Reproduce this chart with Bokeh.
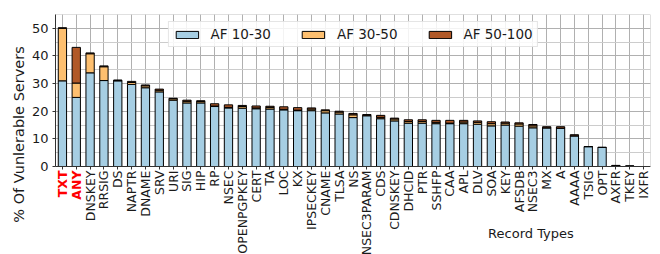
import math
from bokeh.plotting import figure
from bokeh.models import (FixedTicker, Legend, CategoricalAxis, CustomJSTickFormatter,
                          Range1d, BoxAnnotation, Label)
from bokeh.embed import file_html
from bokeh.resources import INLINE

cats = ["TXT", "ANY", "DNSKEY", "RRSIG", "DS", "NAPTR", "DNAME", "SRV", "URI", "SIG",
        "HIP", "RP", "NSEC", "OPENPGPKEY", "CERT", "TA", "LOC", "KX", "IPSECKEY", "CNAME",
        "TLSA", "NS", "NSEC3PARAM", "CDS", "CDNSKEY", "DHCID", "PTR", "SSHFP", "CAA", "APL",
        "DLV", "SOA", "KEY", "AFSDB", "NSEC3", "MX", "A", "AAAA", "TSIG", "OPT",
        "AXFR", "TKEY", "IXFR"]
af_10_30 = [31.0, 25.0, 33.9, 31.1, 31.0, 29.7, 28.5, 27.0, 24.0, 23.0,
            23.0, 21.7, 21.2, 21.1, 20.9, 20.8, 20.5, 20.2, 20.2, 19.4,
            19.0, 17.7, 18.4, 17.3, 16.5, 15.7, 15.7, 15.5, 15.5, 15.5,
            15.3, 14.7, 15.0, 14.6, 14.0, 14.0, 13.9, 11.1, 7.2, 6.9,
            0.2, 0.1, 0.0]
af_30_50 = [19.0, 5.2, 6.9, 5.0, 0.1, 0.7, 0.7, 0.6, 0.5, 0.6,
            0.5, 0.2, 0.2, 0.6, 0.3, 0.6, 0.2, 0.2, 0.6, 0.8,
            0.7, 1.0, 0.0, 0.5, 0.7, 0.6, 0.6, 0.5, 0.2, 0.6,
            0.7, 0.8, 0.7, 0.8, 0.7, 0.0, 0.0, 0.0, 0.0, 0.0,
            0.0, 0.0, 0.0]
af_50_100 = [0.2, 12.9, 0.3, 0.3, 0.2, 0.4, 0.3, 0.4, 0.2, 0.4,
             0.3, 0.8, 0.9, 0.4, 0.7, 0.4, 0.9, 0.9, 0.4, 0.3,
             0.3, 0.5, 0.4, 0.7, 0.3, 0.6, 0.6, 0.7, 1.0, 0.6,
             0.5, 0.7, 0.4, 0.4, 0.5, 0.4, 0.5, 0.4, 0.0, 0.0,
             0.2, 0.1, 0.0]
series = ["AF 10-30", "AF 30-50", "AF 50-100"]
colors = ["#a6cee3", "#fdbf6f", "#b15928"]
highlight = ["TXT", "ANY"]
y_ticks = [0, 10, 20, 30, 40, 50]
y_minor = [5, 15, 25, 35, 45]
Y_TOP = 55

FONT = "DejaVu Sans"
FS = "13px"
XFS = "12.5px"
TXT_COLOR = "#1a1a1a"
GRID = "#b0b0b0"
data = {"cat": cats, "s0": af_10_30, "s1": af_30_50, "s2": af_50_100}

# The frame is extended below zero so the (clipped-to-frame) fixed x axes and
# the axis title remain visible; the visible "plot box" is 0..Y_TOP.
PLOT_H = 152
FRAME_H = 240
y_lo = -Y_TOP * (FRAME_H - PLOT_H) / PLOT_H

p = figure(x_range=cats, y_range=Range1d(y_lo, Y_TOP), frame_width=595, frame_height=FRAME_H,
           output_backend="svg", toolbar_location=None, x_axis_location=None,
           min_border_left=55, min_border_top=14, min_border_right=5, min_border_bottom=0)
p.outline_line_color = None

rs = p.vbar_stack(["s0", "s1", "s2"], x="cat", width=0.6, source=data,
                  color=colors, line_color="black", line_width=1)

legend = Legend(items=[(s, [r]) for s, r in zip(series, rs)],
                location="top_center", orientation="horizontal",
                label_text_font=FONT, label_text_font_size="13.5px", label_text_color=TXT_COLOR,
                glyph_width=28, glyph_height=9, label_standoff=10, spacing=28,
                padding=4, margin=7, border_line_color="#cccccc",
                background_fill_alpha=0.85, label_height=12, label_width=10)
p.add_layout(legend, "center")

# grids
p.ygrid.grid_line_color = GRID
p.ygrid.minor_grid_line_color = "#cccccc"
xg = p.xgrid[0]
xg.grid_line_color = GRID
if "cross_bounds" in xg.properties():
    xg.cross_bounds = (0, Y_TOP)
else:
    xg.visible = False
    p.segment(x0=cats, y0=0, x1=cats, y1=Y_TOP, line_color=GRID, level="underlay")

# plot box
p.add_layout(BoxAnnotation(bottom=0, top=Y_TOP, fill_alpha=0, line_color="#333333",
                           line_width=1, level="overlay"))

# y axis
p.yaxis.ticker = FixedTicker(ticks=y_ticks, minor_ticks=y_minor)
p.yaxis.bounds = (0, Y_TOP)
p.yaxis.minor_tick_line_color = None
p.yaxis.axis_label = "% Of Vunlerable Servers"
p.yaxis.axis_label_text_font = FONT
p.yaxis.axis_label_text_font_size = "14.5px"
p.yaxis.axis_label_text_font_style = "normal"
p.yaxis.axis_label_text_color = TXT_COLOR
p.yaxis.axis_label_standoff = 2
p.yaxis.major_label_text_font = FONT
p.yaxis.major_label_text_font_size = FS
p.yaxis.major_label_text_color = TXT_COLOR
p.yaxis.major_tick_out = 3
p.yaxis.major_tick_in = 0
p.yaxis.axis_line_color = "#333333"
p.yaxis.major_tick_line_color = "#333333"
p.yaxis.major_label_standoff = 3

# x axis (black labels), fixed at y = 0
x_axis = CategoricalAxis(fixed_location=0,
                         formatter=CustomJSTickFormatter(args=dict(hl=highlight),
                                                         code="return hl.includes(tick) ? '' : tick;"),
                         major_label_orientation=math.pi / 2, major_label_standoff=1,
                         major_tick_out=3, major_tick_in=0, major_tick_line_color="#333333",
                         axis_line_color="#333333", major_label_text_color=TXT_COLOR,
                         major_label_text_font=FONT, major_label_text_font_size=XFS)
p.add_layout(x_axis, "below")

# red, bold labels for the highlighted record types
red_axis = CategoricalAxis(fixed_location=0,
                           formatter=CustomJSTickFormatter(args=dict(hl=highlight),
                                                           code="return hl.includes(tick) ? tick : '';"),
                           major_label_orientation=math.pi / 2, major_label_standoff=1,
                           major_tick_out=3, major_tick_in=0, major_tick_line_color=None,
                           axis_line_color=None, major_label_text_color="red",
                           major_label_text_font=FONT, major_label_text_font_size=XFS,
                           major_label_text_font_style="bold")
p.add_layout(red_axis, "below")

# x axis title, right of centre like the reference
p.add_layout(Label(x=34.36, y=-24.2, text="Record Types", text_align="center",
                   text_baseline="middle", text_color=TXT_COLOR,
                   text_font=FONT, text_font_size=FS))

open("out.html", "w").write(file_html(p, INLINE))
